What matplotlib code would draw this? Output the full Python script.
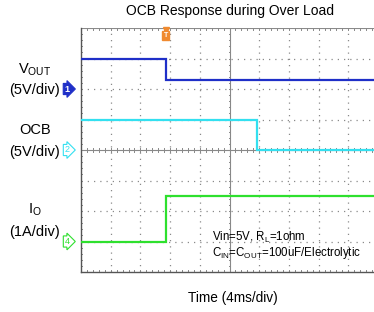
import numpy as np
import matplotlib
matplotlib.use("Agg")
import matplotlib.pyplot as plt

plt.rcParams['font.family'] = ['Liberation Sans', 'DejaVu Sans']
plt.rcParams['mathtext.fontset'] = 'custom'
plt.rcParams['mathtext.rm'] = 'Liberation Sans'
plt.rcParams['mathtext.it'] = 'Liberation Sans'

# scope settings: 4 ms/div, 10 divisions wide, 8 divisions high
ms_per_div = 4.0
n_xdiv = 10
n_ydiv = 8

# channel 1: V_OUT, 5 V/div, ground at division 6
vout_time_ms = [0.0, 11.4, 11.4, 40.0]
vout_v = [5.0, 5.0, 1.5, 1.5]
# channel 2: OCB, 5 V/div, ground at division 4
ocb_time_ms = [0.0, 23.7, 23.7, 40.0]
ocb_v = [5.0, 5.0, 0.0, 0.0]
# channel 4: I_O, 1 A/div, ground at division 1
io_time_ms = [0.0, 11.4, 11.4, 40.0]
io_a = [0.0, 0.0, 1.5, 1.5]

trigger_ms = 11.4

channels = [
    ("1", vout_time_ms, vout_v, 5.0, 6, "#1f2fc8"),
    ("2", ocb_time_ms, ocb_v, 5.0, 4, "#33e0f0"),
    ("4", io_time_ms, io_a, 1.0, 1, "#2ee02e"),
]

fig = plt.figure(figsize=(3.74, 3.12), dpi=100)
ax = fig.add_axes([81 / 374, 40 / 312, 297 / 374, 244 / 312])
ax.set_xlim(0, n_xdiv * ms_per_div)
ax.set_ylim(0, n_ydiv)
ax.set_xticks([])
ax.set_yticks([])
for s in ['top', 'right']:
    ax.spines[s].set_visible(False)
for s in ['left', 'bottom']:
    ax.spines[s].set_color('#555555')
    ax.spines[s].set_linewidth(1.0)

# dotted graticule
grid_col = '#8a8a8a'
for i in range(1, n_xdiv):
    if i == n_xdiv // 2:
        continue
    ax.axvline(i * ms_per_div, color=grid_col, lw=0.9, ls=(0, (1, 4)), zorder=1)
for j in range(1, n_ydiv):
    if j == n_ydiv // 2:
        continue
    ax.axhline(j, color=grid_col, lw=0.9, ls=(0, (1, 4)), zorder=1)
ax.axhline(n_ydiv, color=grid_col, lw=0.8, zorder=1)

# centre lines with minor ticks
xc = n_xdiv / 2 * ms_per_div
yc = n_ydiv / 2
ax.axvline(xc, color='#888888', lw=0.8, zorder=1)
ax.axhline(yc, color='#888888', lw=0.8, zorder=1)
minor_x = np.arange(0, n_xdiv * 5 + 1) * ms_per_div / 5
minor_y = np.arange(0, n_ydiv * 5 + 1) / 5
tk = 0.08
for x in minor_x:
    ax.plot([x, x], [yc - tk, yc + tk], color='#888888', lw=0.7, zorder=1)
    ax.plot([x, x], [n_ydiv - tk, n_ydiv], color='#888888', lw=0.7, zorder=1)
    ax.plot([x, x], [0, tk], color='#888888', lw=0.7, zorder=1)
for y in minor_y:
    ax.plot([xc - tk * 1.6, xc + tk * 1.6], [y, y], color='#888888', lw=0.7, zorder=1)
    ax.plot([0, tk * 1.6], [y, y], color='#888888', lw=0.7, zorder=1)

# traces
for name, t, v, scale, gnd, col in channels:
    y = gnd + np.array(v) / scale
    ax.plot(t, y, color=col, lw=1.6, zorder=3, solid_joinstyle='miter')

# channel ground markers
for name, t, v, scale, gnd, col in channels:
    if name == "1":
        ax.text(-1.9, gnd, name, color='white', fontsize=6.5, fontweight='bold',
                ha='center', va='center', clip_on=False,
                bbox=dict(boxstyle='rarrow,pad=0.12', fc=col, ec=col, lw=0.8))
    else:
        ax.text(-1.9, gnd, name, color=col, fontsize=6.5,
                ha='center', va='center', clip_on=False,
                bbox=dict(boxstyle='rarrow,pad=0.12', fc='white', ec=col, lw=0.8))

# trigger marker
ax.plot([trigger_ms], [n_ydiv - 0.07], marker='v', color='#f08a30', ms=4,
        clip_on=False, zorder=5)
ax.text(trigger_ms, n_ydiv - 0.25, 'T', color='white', fontsize=5, fontweight='bold',
        ha='center', va='center', zorder=5,
        bbox=dict(boxstyle='square,pad=0.15', fc='#f08a30', ec='#f08a30'))

# left labels
lab_kw = dict(fontsize=10.5, ha='center', va='center', transform=fig.transFigure)
fig.text(35 / 374, 1 - 70 / 312, r'V$_{\mathregular{OUT}}$', **lab_kw)
fig.text(35 / 374, 1 - 90 / 312, '(5V/div)', **lab_kw)
fig.text(35 / 374, 1 - 130 / 312, 'OCB', **lab_kw)
fig.text(35 / 374, 1 - 152 / 312, '(5V/div)', **lab_kw)
fig.text(35 / 374, 1 - 210 / 312, r'I$_{\mathregular{O}}$', **lab_kw)
fig.text(35 / 374, 1 - 232 / 312, '(1A/div)', **lab_kw)

fig.text(230 / 374, 1 - 11 / 312, 'OCB Response during Over Load', fontsize=10,
         ha='center', va='center')
fig.text(233 / 374, 1 - 298 / 312, 'Time (4ms/div)', fontsize=9.8,
         ha='center', va='center')

ax.text(212 / 374, 1 - 237 / 312, r'Vin=5V, R$_{\mathregular{L}}$=1ohm', fontsize=8.3,
        ha='left', va='center', transform=fig.transFigure)
ax.text(212 / 374, 1 - 253 / 312,
        r'C$_{\mathregular{IN}}$=C$_{\mathregular{OUT}}$=100uF/Electrolytic', fontsize=8.3,
        ha='left', va='center', transform=fig.transFigure)

fig.savefig('out.png', dpi=100)
